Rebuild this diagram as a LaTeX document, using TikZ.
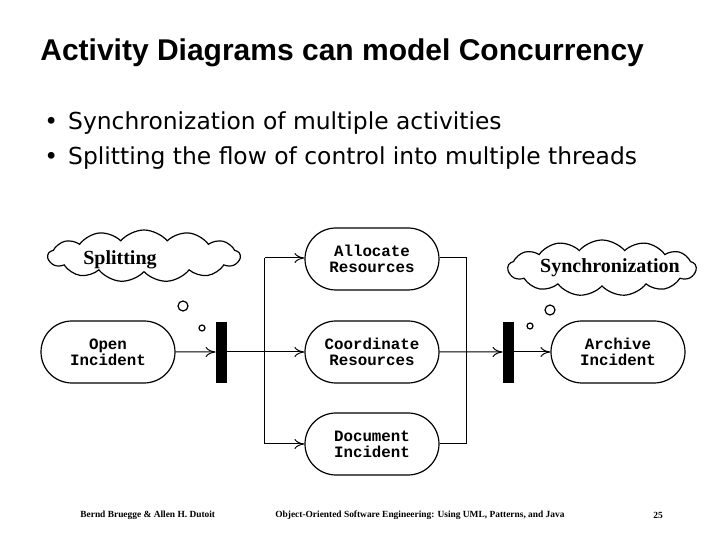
\documentclass[tikz,border=0pt]{standalone}
\usepackage{fontspec}
\setmainfont{Liberation Serif}
\newfontfamily\titlef{Liberation Sans}
\newfontfamily\bulf{DejaVu Sans}
\newfontfamily\monof{Liberation Mono}
\usetikzlibrary{shapes.symbols,shapes.misc,arrows.meta}
\begin{document}
\begin{tikzpicture}[x=0.5pt,y=-0.5pt,
 act/.style={draw,rounded rectangle,minimum width=67pt,minimum height=31pt,line width=0.6pt,align=center,font=\monof\bfseries\fontsize{7.9}{8}\selectfont,inner sep=0pt},
 bar/.style={draw,fill=black,minimum width=5pt,minimum height=30pt,inner sep=0pt,line width=0.4pt},
 fl/.style={line width=0.5pt,-{To[length=5pt,width=5pt]}},
 ln/.style={line width=0.5pt},
 thought/.style={draw,cloud,cloud puffs=13,cloud puff arc=100,line width=0.6pt,inner sep=0pt},
 bub/.style={draw,circle,line width=0.6pt,inner sep=0pt},
 bl/.style={anchor=west,inner sep=0pt,font=\bulf\fontsize{11.7}{13}\selectfont}]
\useasboundingbox (0,0) rectangle (720,540);
\node[anchor=west,inner sep=0pt,font=\titlef\bfseries\fontsize{15}{17}\selectfont] (title) at (40,53) {Activity Diagrams can model Concurrency};
\node[bl] (b1) at (44,123) {\textbullet\hspace{5pt}Synchronization of multiple activities};
\node[bl] (b2) at (44,158) {\textbullet\hspace{5pt}Splitting the flow of control into multiple threads};
\node[act] (open) at (108,352) {Open\\Incident};
\node[act] (alloc) at (372,259) {Allocate\\Resources};
\node[act] (coord) at (372,352) {Coordinate\\Resources};
\node[act] (doc) at (372,444) {Document\\Incident};
\node[act] (arch) at (618,352) {Archive\\Incident};
\node[bar] (bar1) at (221,352) {};
\node[bar] (bar2) at (508,352) {};
\coordinate (lt) at (265,258); \coordinate (lb) at (265,444);
\coordinate (rt) at (467,258); \coordinate (rb) at (467,444);
\draw[fl] (open) -- (bar1);
\draw[fl] (bar1) -- (coord);
\draw[ln] (lt) -- (lb);
\draw[fl] (lt) -- (alloc.west |- lt);
\draw[fl] (lb) -- (doc.west |- lb);
\draw[ln] (alloc.east |- rt) -- (rt) -- (rb) -- (doc.east |- rb);
\draw[fl] (coord) -- (bar2);
\draw[fl] (bar2) -- (arch);
\node[thought,minimum width=96pt,minimum height=26pt] (c1) at (144,256) {};
\node[font=\bfseries\fontsize{10}{11}\selectfont] (t1) at (120,260) {Splitting};
\node[thought,minimum width=94pt,minimum height=28pt] (c2) at (602,268) {};
\node[font=\bfseries\fontsize{10}{11}\selectfont] (t2) at (610,268) {Synchronization};
\node[bub,minimum size=5pt] (o1) at (183,306) {};
\node[bub,minimum size=3pt] (o2) at (202,328) {};
\node[bub,minimum size=5pt] (o3) at (550,310) {};
\node[bub,minimum size=3pt] (o4) at (530,326) {};
\node[anchor=west,inner sep=0pt,font=\bfseries\fontsize{4.7}{5}\selectfont] (f1) at (80,515) {Bernd Bruegge \& Allen H. Dutoit};
\node[anchor=west,inner sep=0pt,font=\bfseries\fontsize{4.7}{5}\selectfont] (f2) at (275,515) {Object-Oriented Software Engineering: Using UML, Patterns, and Java};
\node[anchor=west,inner sep=0pt,font=\bfseries\fontsize{4.7}{5}\selectfont] (f3) at (653,515) {25};
\end{tikzpicture}
\end{document}
